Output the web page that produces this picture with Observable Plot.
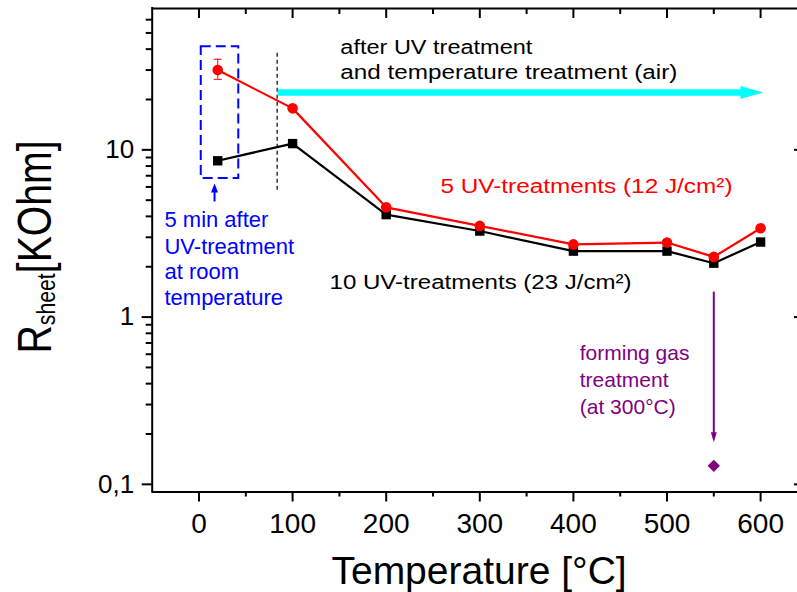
<!DOCTYPE html>
<html><head><meta charset="utf-8">
<script src="https://cdn.jsdelivr.net/npm/d3@7"></script>
<script src="https://cdn.jsdelivr.net/npm/@observablehq/plot@0.6"></script>
<style>body{margin:0;background:#fff;} #chart svg{display:block;overflow:hidden;}</style>
</head><body><div id="chart"></div>
<script>
// ---- data ----
const temperatures = [20, 100, 200, 300, 400, 500, 550, 600];
const rSheet5UV  = [30.0, 17.7, 4.53, 3.51, 2.72, 2.79, 2.29, 3.40];
const rSheet10UV = [8.6, 10.9, 4.10, 3.27, 2.48, 2.48, 2.10, 2.81];
const errTemps = [20];
const errLow = [26.4];
const errHigh = [34.8];
const formingGasTemp = [550];
const formingGasR = [0.129];
const seriesNames = ["5 UV-treatments (12 J/cm²)", "10 UV-treatments (23 J/cm²)"];
const xMajorTicks = [0, 100, 200, 300, 400, 500, 600];
const xMinorTicks = [50, 150, 250, 350, 450, 550, 650];
const yMajorTicks = [0.1, 1, 10];
const yTickLabels = ["0,1", "1", "10"];
const yMinorTicks = [0.2, 0.3, 0.4, 0.5, 0.6, 0.7, 0.8, 0.9, 2, 3, 4, 5, 6, 7, 8, 9, 20, 30, 40, 50, 60];
const xTitle = "Temperature [°C]";
const yTitleParts = ["R", "sheet", "[KOhm]"];

// annotation texts (one entry per line) and their anchors in data units
const airNote = ["after UV treatment", "and temperature treatment (air)"];
const airNoteT = [151, 151];
const airNoteR = [37.2, 26.7];
const blueNote = ["5 min after", "UV-treatment", "at room", "temperature"];
const blueNoteT = [-36.9, -36.9, -36.9, -36.9];
const blueNoteR = [3.48, 2.40, 1.68, 1.183];
const gasNote = ["forming gas", "treatment", "(at 300°C)"];
const gasNoteT = [406.8, 406.8, 406.8];
const gasNoteR = [0.556, 0.382, 0.265];
const seriesLabelT = [258, 139.5];
const seriesLabelR = [5.49, 1.474];

// ---- tables ----
const s5 = temperatures.map((t, i) => ({t, r: rSheet5UV[i]}));
const s10 = temperatures.map((t, i) => ({t, r: rSheet10UV[i]}));
const errs = errTemps.map((t, i) => ({t, lo: errLow[i], hi: errHigh[i]}));
const gas = formingGasTemp.map((t, i) => ({t, r: formingGasR[i]}));
const lines = (txt, T, R) => txt.map((s, i) => ({s, t: T[i], r: R[i]}));
const seriesLabels = lines(seriesNames, seriesLabelT, seriesLabelR);

// custom symbols
const headRight = {draw(c) { c.moveTo(0, 0); c.lineTo(-23, -6.5); c.lineTo(-23, 6.5); c.closePath(); }};
const headUp = {draw(c) { c.moveTo(0, 0); c.lineTo(-3.5, 9); c.lineTo(3.5, 9); c.closePath(); }};
const headDown = {draw(c) { c.moveTo(0, 0); c.lineTo(-3, -10); c.lineTo(3, -10); c.closePath(); }};
const capSym = {draw(c) { c.moveTo(-4, 0); c.lineTo(4, 0); }};

const W = 797, H = 592, mL = 151.7, mT = 8, mB = 100.5;
const frameH = H - mT - mB, frameW = W - mL;
const fmtY = d => yTickLabels[yMajorTicks.indexOf(d)];

const plot = Plot.plot({
  width: W, height: H,
  marginLeft: mL, marginRight: 0, marginTop: mT, marginBottom: mB,
  x: {type: "linear", domain: [-50, 650], range: [151.7, 806.9]},
  y: {type: "log", domain: [0.09, 70]},
  style: {fontFamily: "'Liberation Sans', Arial, sans-serif", background: "white", color: "black"},
  marks: [
    // frame (left, top, bottom; right edge lies outside the picture)
    Plot.ruleX([-50], {stroke: "black", strokeWidth: 2, insetTop: -1, insetBottom: -1}),
    Plot.ruleY([0.09, 70], {stroke: "black", strokeWidth: 2}),
    // bottom axis
    Plot.axisX({ticks: xMajorTicks, anchor: "bottom", tickSize: 10, tickPadding: 11, fontSize: 28, strokeWidth: 2, label: null, tickFormat: d => String(d)}),
    Plot.axisX({ticks: xMinorTicks, anchor: "bottom", tickSize: 5, strokeWidth: 2, label: null, tickFormat: () => ""}),
    // left axis
    Plot.axisY({ticks: yMajorTicks, anchor: "left", tickSize: 10, tickPadding: 8, fontSize: 26, strokeWidth: 2, label: null, tickFormat: fmtY}),
    Plot.axisY({ticks: yMinorTicks, anchor: "left", tickSize: 6, strokeWidth: 2, label: null, tickFormat: () => ""}),
    // top mirrored ticks (inward)
    Plot.ruleX(xMajorTicks, {x: d => d, stroke: "black", strokeWidth: 2, insetBottom: frameH - 10}),
    Plot.ruleX(xMinorTicks, {x: d => d, stroke: "black", strokeWidth: 2, insetBottom: frameH - 6}),
    // right mirrored ticks (only their ends are visible)
    Plot.ruleY(yMajorTicks, {y: d => d, stroke: "black", strokeWidth: 2, insetLeft: frameW - 3}),

    // annotations
    Plot.rect([{x1: 2.4, x2: 42.5, y1: 6.74, y2: 41.4}], {x1: "x1", x2: "x2", y1: "y1", y2: "y2", fill: "none", stroke: "#0000ff", strokeWidth: 2, strokeDasharray: "10,5"}),
    Plot.ruleX([{t: 83.5, a: 5.74, b: 37.9}], {x: "t", y1: "a", y2: "b", stroke: "black", strokeWidth: 1.2, strokeDasharray: "4,3"}),
    Plot.ruleY([{r: 22.03, a: 84.6, b: 580}], {y: "r", x1: "a", x2: "b", stroke: "#00ffff", strokeWidth: 6.5}),
    Plot.dot([{t: 603, r: 22.03}], {x: "t", y: "r", symbol: headRight, fill: "#00ffff", stroke: "none"}),
    Plot.ruleX([{t: 16.6, a: 4.88, b: 6.0}], {x: "t", y1: "a", y2: "b", stroke: "#0000ff", strokeWidth: 2}),
    Plot.dot([{t: 16.6, r: 6.29}], {x: "t", y: "r", symbol: headUp, fill: "#0000ff", stroke: "none"}),
    Plot.ruleX([{t: 550, a: 0.195, b: 1.41}], {x: "t", y1: "a", y2: "b", stroke: "#800080", strokeWidth: 2}),
    Plot.dot([{t: 550, r: 0.1784}], {x: "t", y: "r", symbol: headDown, fill: "#800080", stroke: "none"}),

    // data: 10 UV-treatments (black squares)
    Plot.line(s10, {x: "t", y: "r", stroke: "black", strokeWidth: 2.2}),
    Plot.dot(s10, {x: "t", y: "r", symbol: "square", r: 5.3, fill: "black", stroke: "none"}),
    // data: 5 UV-treatments (red circles)
    Plot.line(s5, {x: "t", y: "r", stroke: "#ff0000", strokeWidth: 2.2}),
    Plot.ruleX(errs, {x: "t", y1: "lo", y2: "hi", stroke: "#ff0000", strokeWidth: 1}),
    Plot.dot(errs, {x: "t", y: "lo", symbol: capSym, fill: "none", stroke: "#ff0000", strokeWidth: 1}),
    Plot.dot(errs, {x: "t", y: "hi", symbol: capSym, fill: "none", stroke: "#ff0000", strokeWidth: 1}),
    Plot.dot(s5, {x: "t", y: "r", symbol: "circle", r: 5.3, fill: "#ff0000", stroke: "none"}),
    // forming gas point
    Plot.dot(gas, {x: "t", y: "r", symbol: "square", rotate: 45, r: 4.9, fill: "#800080", stroke: "none"}),

    // texts
    Plot.text(lines(airNote, airNoteT, airNoteR), {x: "t", y: "r", text: "s", textAnchor: "start", lineAnchor: "bottom", fontSize: 20, fill: "black", ariaDescription: "fit-text"}),
    Plot.text(seriesLabels.slice(0, 1), {x: "t", y: "r", text: "s", textAnchor: "start", lineAnchor: "bottom", fontSize: 20, fill: "#ff0000", ariaDescription: "fit-text"}),
    Plot.text(seriesLabels.slice(1), {x: "t", y: "r", text: "s", textAnchor: "start", lineAnchor: "bottom", fontSize: 20, fill: "black", ariaDescription: "fit-text"}),
    Plot.text(lines(blueNote, blueNoteT, blueNoteR), {x: "t", y: "r", text: "s", textAnchor: "start", lineAnchor: "bottom", fontSize: 22, fill: "#0000ff"}),
    Plot.text(lines(gasNote, gasNoteT, gasNoteR), {x: "t", y: "r", text: "s", textAnchor: "start", lineAnchor: "bottom", fontSize: 21, fill: "#800080"}),
    Plot.text([xTitle], {frameAnchor: "bottom", dx: 4.2, dy: 91.5, textAnchor: "middle", lineAnchor: "bottom", fontSize: 39, fill: "black"}),
    Plot.text([yTitleParts[0]], {frameAnchor: "left", dx: -101.7, dy: -3.3, rotate: -90, textAnchor: "middle", lineAnchor: "bottom", fontSize: 48, fill: "black", ariaDescription: "y-title"})
  ]
});

document.getElementById("chart").append(plot);

// stretch some labels horizontally to the widths they have in the reference
const fitWidths = new Map([
  [airNote[0], 192], [airNote[1], 337],
  [seriesNames[0], 292], [seriesNames[1], 302]
]);
plot.querySelectorAll('[aria-description="fit-text"] text').forEach(t => {
  const w = fitWidths.get(t.textContent);
  if (w) { t.setAttribute("textLength", w); t.setAttribute("lengthAdjust", "spacingAndGlyphs"); }
});

// y title with subscript
const ns = "http://www.w3.org/2000/svg";
const yt = plot.querySelector('[aria-description="y-title"] text');
if (yt) {
  yt.textContent = yTitleParts[0];
  const sub = document.createElementNS(ns, "tspan");
  sub.setAttribute("font-size", 26); sub.setAttribute("dy", 4); sub.textContent = yTitleParts[1];
  const rest = document.createElementNS(ns, "tspan");
  rest.setAttribute("dy", -4); rest.textContent = yTitleParts[2];
  yt.append(sub, rest);
  yt.setAttribute("textLength", 213); yt.setAttribute("lengthAdjust", "spacingAndGlyphs");
}
</script>
</body></html>
